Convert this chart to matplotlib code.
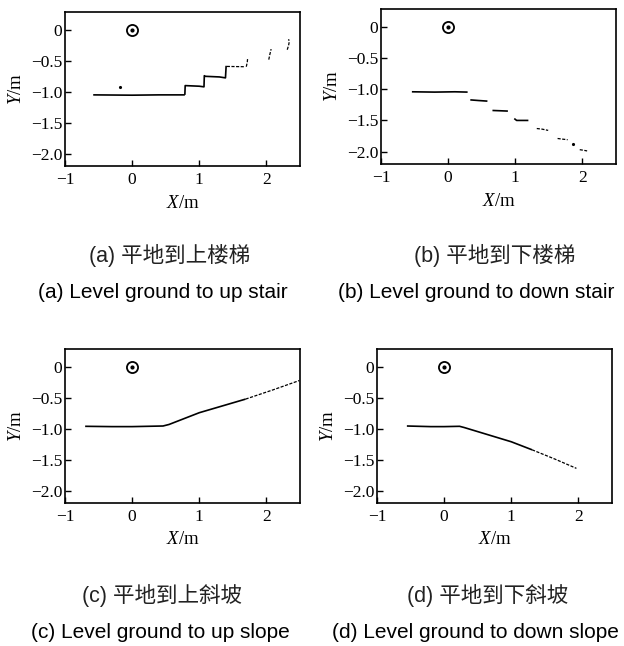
import matplotlib
matplotlib.use('Agg')
import matplotlib.pyplot as plt

plt.rcParams['font.family'] = ['Liberation Serif', 'DejaVu Serif']
plt.rcParams['mathtext.fontset'] = 'custom'
plt.rcParams['mathtext.rm'] = 'Liberation Serif'
plt.rcParams['mathtext.it'] = 'Liberation Serif:italic'

cap_font = ['Liberation Sans Narrow', 'Liberation Sans', 'Noto Sans CJK SC', 'DejaVu Sans']

# (a) level ground -> up stair
a_dense = [([-0.58, 0.0, 0.4, 0.785], [-1.05, -1.055, -1.05, -1.05]),
           ([0.785, 0.79, 1.0, 1.07, 1.075, 1.09, 1.3, 1.39, 1.4],
            [-1.05, -0.90, -0.91, -0.92, -0.74, -0.75, -0.76, -0.775, -0.58])]
a_sparse = [([1.41, 1.685], [-0.59, -0.595]),
            ([1.70, 1.715, 1.72], [-0.595, -0.52, -0.455]),
            ([2.035, 2.05, 2.07], [-0.48, -0.40, -0.31]),
            ([2.31, 2.33, 2.34, 2.33], [-0.32, -0.25, -0.19, -0.15])]
a_dots = ([-0.18], [-0.92])

# (b) level ground -> down stair
b_dense = [([-0.54, -0.2, 0.1, 0.29], [-1.04, -1.045, -1.04, -1.045]),
           ([0.33, 0.45, 0.585], [-1.17, -1.18, -1.19]),
           ([0.66, 0.78, 0.89], [-1.34, -1.345, -1.35]),
           ([0.985, 1.02, 1.195], [-1.47, -1.50, -1.50])]
b_sparse = [([1.32, 1.40, 1.49], [-1.63, -1.64, -1.66]),
            ([1.63, 1.70, 1.78], [-1.79, -1.80, -1.81]),
            ([1.96, 2.02, 2.07], [-1.97, -1.98, -1.99])]
b_dots = ([1.86], [-1.88])

# (c) level ground -> up slope
c_dense = [([-0.7, -0.3, 0.0, 0.46, 0.55, 1.0, 1.69],
            [-0.96, -0.965, -0.965, -0.955, -0.93, -0.74, -0.52])]
c_sparse = [([1.69, 2.1, 2.49], [-0.52, -0.37, -0.22])]
c_dots = ([], [])

# (d) level ground -> down slope
d_dense = [([-0.555, -0.2, 0.0, 0.23, 0.3, 1.0, 1.31],
            [-0.955, -0.965, -0.965, -0.96, -0.98, -1.21, -1.34])]
d_sparse = [([1.31, 1.65, 1.97], [-1.34, -1.49, -1.64])]
d_dots = ([], [])

cn_titles = ['(a) 平地到上楼梯', '(b) 平地到下楼梯', '(c) 平地到上斜坡', '(d) 平地到下斜坡']
en_titles = ['(a) Level ground to up stair', '(b) Level ground to down stair',
             '(c) Level ground to up slope', '(d) Level ground to down slope']

W, H = 624, 646
fig = plt.figure(figsize=(W / 100, H / 100), dpi=100)

# axes boxes in pixels: left, top, right, bottom
boxes = [(65, 12, 300, 166), (381, 9, 616, 164), (65, 349, 300, 503), (377, 349, 612, 503)]
cap_x = [[170, 163], [495, 476], [162, 160], [488, 475]]
panels = [(a_dense, a_sparse, a_dots), (b_dense, b_sparse, b_dots),
          (c_dense, c_sparse, c_dots), (d_dense, d_sparse, d_dots)]

for i, (dense, sparse, dots) in enumerate(panels):
    l, t, r, b = boxes[i]
    ax = fig.add_axes([l / W, 1 - b / H, (r - l) / W, (b - t) / H])
    for xs, ys in dense:
        ax.plot(xs, ys, color='black', lw=1.2, solid_capstyle='butt')
    for xs, ys in sparse:
        ax.plot(xs, ys, color='black', lw=0.9, linestyle=(0, (2.5, 1.2)))
    if dots[0]:
        ax.plot(dots[0], dots[1], 'k.', ms=2.5)
    # sensor position
    ax.plot([0], [0], marker='o', ms=8, mfc='none', mec='black', mew=1.3, ls='none')
    ax.plot([0], [0], marker='o', ms=2, color='black', ls='none')

    ax.set_xlim(-1, 2.5)
    ax.set_ylim(-2.2, 0.29)
    ax.set_xticks([-1, 0, 1, 2])
    ax.set_xticklabels(['\u22121', '0', '1', '2'])
    ax.set_yticks([0, -0.5, -1.0, -1.5, -2.0])
    ax.set_yticklabels(['0', '\u22120.5', '\u22121.0', '\u22121.5', '\u22122.0'])
    ax.tick_params(direction='in', length=4, width=1, labelsize=12.5)
    ax.tick_params(axis='x', pad=4)
    ax.tick_params(axis='y', pad=2)
    for s in ax.spines.values():
        s.set_linewidth(1.2)
    ax.set_xlabel('$X$/m', fontsize=13.5, labelpad=5)
    ax.set_ylabel('$Y$/m', fontsize=13.5, labelpad=4)

    yc = 255 if i < 2 else 595
    fig.text(cap_x[i][0] / W, 1 - yc / H, cn_titles[i], family=cap_font,
             fontsize=15.5, ha='center', va='center', color='#222222')
    fig.text(cap_x[i][1] / W, 1 - (yc + 38) / H, en_titles[i], family=cap_font,
             fontsize=15, ha='center', va='center', color='black')

fig.savefig('out.png', dpi=100)
